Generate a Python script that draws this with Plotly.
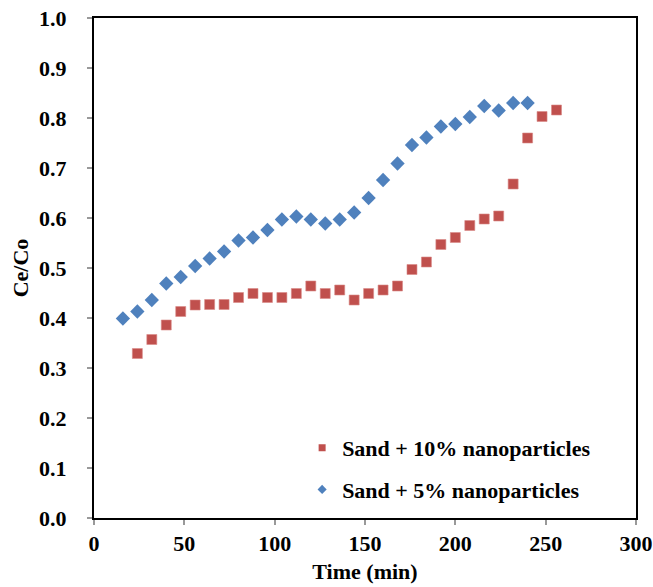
import plotly.graph_objects as go

time_10 = [24, 32, 40, 48, 56, 64, 72, 80, 88, 96, 104, 112, 120, 128, 136, 144, 152, 160,
           168, 176, 184, 192, 200, 208, 216, 224, 232, 240, 248, 256]
ce_10 = [0.329, 0.357, 0.386, 0.413, 0.426, 0.427, 0.427, 0.441, 0.449, 0.441, 0.441, 0.449,
         0.464, 0.449, 0.456, 0.436, 0.449, 0.456, 0.464, 0.497, 0.512, 0.547, 0.561, 0.585,
         0.598, 0.604, 0.668, 0.760, 0.803, 0.816]

time_5 = [16, 24, 32, 40, 48, 56, 64, 72, 80, 88, 96, 104, 112, 120, 128, 136, 144, 152, 160,
          168, 176, 184, 192, 200, 208, 216, 224, 232, 240]
ce_5 = [0.399, 0.413, 0.436, 0.469, 0.482, 0.504, 0.519, 0.533, 0.555, 0.561, 0.576, 0.597,
        0.603, 0.597, 0.589, 0.597, 0.611, 0.640, 0.676, 0.709, 0.746, 0.761, 0.783, 0.788,
        0.802, 0.824, 0.815, 0.830, 0.830]

x_ticks = [0, 50, 100, 150, 200, 250, 300]
y_ticks = [0.0, 0.1, 0.2, 0.3, 0.4, 0.5, 0.6, 0.7, 0.8, 0.9, 1.0]

names = ["Sand + 10% nanoparticles", "Sand + 5% nanoparticles"]
RED = "#C0504D"
BLUE = "#4F81BD"
FONT = "Liberation Serif"
FS = 22

fig = go.Figure()
fig.add_trace(go.Scatter(
    x=time_10, y=ce_10, mode="markers", name=names[0], showlegend=False,
    marker=dict(symbol="square", size=10, color=RED,
                line=dict(color="#D88A88", width=0.6)),
))
fig.add_trace(go.Scatter(
    x=time_5, y=ce_5, mode="markers", name=names[1], showlegend=False,
    marker=dict(symbol="diamond", size=11, color=BLUE, line=dict(width=0)),
))
# legend entries (smaller legend symbols, as in the original)
fig.add_trace(go.Scatter(
    x=[None], y=[None], mode="markers", name="<b>" + names[0] + "</b>",
    legendgroup="a",
    marker=dict(symbol="square", size=7, color=RED),
))
fig.add_trace(go.Scatter(
    x=[None], y=[None], mode="markers", name="<b>" + names[1] + "</b>",
    legendgroup="b",
    marker=dict(symbol="diamond", size=7, color=BLUE),
))

fig.update_layout(
    width=653, height=587,
    margin=dict(l=94, r=17, t=18, b=69),
    paper_bgcolor="white", plot_bgcolor="white",
    font=dict(family=FONT, size=FS, color="black"),
    showlegend=True,
    legend=dict(
        x=0.384, y=0.182, xanchor="left", yanchor="top",
        bgcolor="rgba(0,0,0,0)",
        font=dict(family=FONT, size=FS, color="black"),
        traceorder="grouped", tracegroupgap=10,
        itemwidth=30,
    ),
    xaxis=dict(
        range=[0, 300], tickvals=x_ticks, ticktext=["<b>%d</b>" % v for v in x_ticks],
        showgrid=False, zeroline=False, automargin=False,
        ticklabeloverflow="allow",
        showline=True, linecolor="black", linewidth=2, mirror=True,
        ticks="outside", ticklen=5, tickcolor="#999999", tickwidth=1.5,
        tickfont=dict(family=FONT, size=FS, color="black"),
        title=dict(text="<b>Time (min)</b>", font=dict(family=FONT, size=FS, color="black"),
                   standoff=8),
    ),
    yaxis=dict(
        range=[0, 1.0], tickvals=y_ticks, ticktext=["<b>%.1f</b>" % v for v in y_ticks],
        showgrid=False, zeroline=False, automargin=False,
        ticklabeloverflow="allow",
        showline=True, linecolor="black", linewidth=2, mirror=True,
        ticks="outside", ticklen=5, tickcolor="#999999", tickwidth=1.5,
        ticklabelstandoff=16,
        tickfont=dict(family=FONT, size=FS, color="black"),
        title=dict(text="<b>Ce/Co</b>", font=dict(family=FONT, size=FS, color="black"),
                   standoff=4),
    ),
)

fig.write_html(
    "out.html",
    config={"displayModeBar": False},
    post_script="document.body.style.margin='0';document.body.style.overflow='hidden';",
)
